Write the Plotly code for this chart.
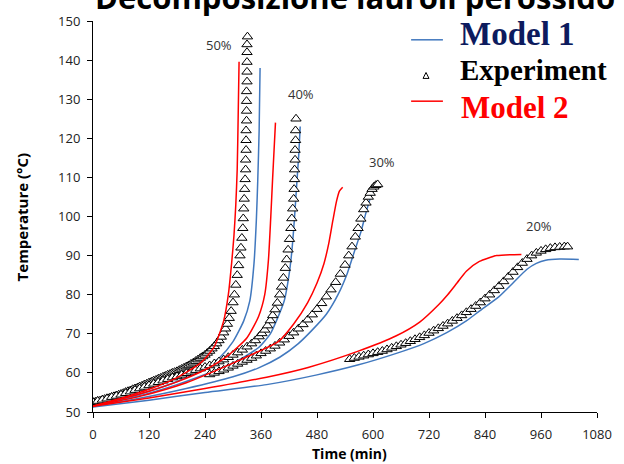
import plotly.graph_objects as go

# ---------------- data ----------------
# Experimental data (time in min, temperature in °C)
exp50_t = [0,5,10,15,20,25,30,35,40,45,50,55,60,65,70,75,80,85,90,95,100,105,110,115,120,
           125,130,135,140,145,150,155,160,165,170,175,180,185,190,195,200,205,210,215,220,
           225,230,235,240,245,250,255,260,265,270,275,280,284,288,292,296,300,303,306,309,
           312,315,317,319,321,322,323,324,325,326,327,327,328,328,328,329,329,329,329,330,
           330,330,330,330,331]
exp50_T = [52.5,52.6,52.8,52.9,53.1,53.3,53.5,53.6,53.8,54.0,54.2,54.4,54.6,54.8,55.1,55.3,55.5,55.8,56.0,56.2,56.5,56.7,57.0,57.2,57.5,
           57.7,58.0,58.2,58.5,58.7,59.0,59.2,59.5,59.7,60.0,60.2,60.4,60.7,61.0,61.3,61.6,61.9,62.3,62.6,63.0,
           63.4,63.8,64.2,64.6,65.1,65.6,66.2,66.8,67.5,68.3,69.2,70.3,71.3,72.5,74.0,75.8,78.0,80.0,82.5,85.0,
           87.5,90.0,92.0,94.5,97.0,99.5,102.0,104.5,107.0,109.5,112.0,114.5,117.0,119.5,122.0,124.5,127.0,129.5,132.0,134.5,
           137.0,139.5,142.0,144.0,146.0]

exp40_t = [0,10,20,30,40,50,60,70,80,90,100,110,120,130,140,150,160,170,180,190,200,210,220,230,240,
           250,260,270,280,290,300,310,320,330,340,348,356,362,368,374,380,385,390,395,400,404,408,412,
           415,418,421,424,426,428,430,431,432,432,433,433,434,434,435]
exp40_T = [52.5,52.8,53.1,53.4,53.8,54.1,54.4,54.8,55.2,55.6,56.0,56.4,56.8,57.2,57.6,58.0,58.4,58.8,59.1,59.5,59.9,60.3,60.7,61.1,61.5,
           61.9,62.4,62.9,63.4,64.0,64.6,65.2,65.9,66.7,67.5,68.3,69.3,70.1,71.0,72.1,73.4,74.7,76.2,77.9,80.0,82.0,84.3,86.8,
           89.0,91.5,94.2,97.0,99.5,102.0,104.5,107.0,109.5,112.0,114.5,117.0,119.5,122.0,125.0]

exp30_t = [250,260,270,280,290,300,310,320,330,340,350,360,370,380,390,400,410,420,430,440,
           450,460,470,480,490,500,510,520,530,540,548,555,562,568,574,580,585,590,594,598,602,606,610]
exp30_T = [59.6,60.0,60.4,60.8,61.3,61.8,62.3,62.8,63.3,63.8,64.4,65.0,65.6,66.2,66.9,67.7,68.5,69.4,70.3,71.3,
           72.4,73.6,74.9,76.3,77.8,79.5,81.3,83.2,85.3,87.6,90.0,92.3,94.8,97.0,99.4,101.8,103.5,105.0,106.0,107.0,107.6,108.0,108.2]

exp20_t = [550,560,570,580,590,600,610,620,630,640,650,660,670,680,690,700,710,720,730,740,
           750,760,770,780,790,800,810,820,830,840,850,860,870,880,890,900,910,920,930,940,
           950,960,970,980,990,1000,1010,1017]
exp20_T = [63.5,63.8,64.1,64.4,64.7,65.0,65.3,65.6,66.0,66.4,66.8,67.2,67.6,68.1,68.6,69.1,69.6,70.2,70.8,71.4,
           72.0,72.6,73.3,74.0,74.7,75.5,76.3,77.1,78.0,79.0,80.0,81.1,82.2,83.4,84.6,85.8,87.0,88.1,89.1,90.0,
           90.7,91.2,91.6,91.9,92.1,92.2,92.3,92.3]

# Model 1 (blue)
m1_50_t = [0,60,120,180,230,272,300,323,336,345,350,353,356,358]
m1_50_T = [51.4,53.2,55.3,57.8,60.5,64.0,68.0,73.3,78.4,88.0,99.0,109.0,122.0,138.0]
m1_40_t = [0,60,120,180,240,300,355,380,393,410,420,426,432,437,441,444]
m1_40_T = [51.4,53.0,54.8,57.0,59.6,62.5,66.5,70.0,73.3,78.5,85.0,91.0,100.0,109.0,116.0,123.0]
m1_30_t = [0,100,200,300,355,400,440,470,500,525,545,560,574,585,595,603]
m1_30_T = [51.4,53.5,56.0,59.0,61.3,64.0,67.5,71.0,75.0,80.0,85.5,91.0,96.0,101.0,105.0,107.0]
m1_20_t = [0,120,240,372,480,567,650,709,758,800,828,870,900,930,950,970,1000,1041]
m1_20_T = [51.3,53.0,55.0,57.0,59.5,62.0,65.0,67.5,70.3,73.3,75.8,79.5,83.0,86.5,88.0,88.8,89.1,89.0]

# Model 2 (red)
m2_50_t = [0,60,120,180,230,259,280,290,297,302,306,309,311,313]
m2_50_T = [51.5,53.5,55.8,58.8,62.5,66.5,73.3,80.0,88.0,95.0,103.0,112.0,125.0,139.6]
m2_40_t = [0,60,120,180,240,290,330,355,368,376,381,385,388,391]
m2_40_T = [51.5,53.3,55.3,57.7,60.8,64.5,69.0,74.5,80.0,89.0,100.0,110.0,117.0,124.0]
m2_30_t = [0,100,200,300,355,397,430,460,480,495,505,514,522,528,535]
m2_30_T = [51.5,54.0,57.5,62.5,65.5,68.0,72.5,78.0,83.0,88.0,93.0,99.0,104.0,106.5,107.5]
m2_20_t = [0,120,240,372,461,567,650,700,741,760,780,800,828,865,918]
m2_20_T = [51.5,53.6,56.0,58.9,61.4,65.5,69.5,73.0,77.5,80.0,83.0,86.0,88.5,90.0,90.3]

# Concentration labels and where they sit (data coords)
conc_labels = ["50%", "40%", "30%", "20%"]
conc_t = [270, 446, 620, 955]
conc_T = [143.9, 131.3, 114.0, 97.6]

x_ticks = [0, 120, 240, 360, 480, 600, 720, 840, 960, 1080]
y_ticks = [50, 60, 70, 80, 90, 100, 110, 120, 130, 140, 150]

title_text = "Decomposizione lauroil perossido"
x_title = "Time (min)"
y_title = "Temperature (°C)"
legend_names = ["Model 1", "Experiment", "Model 2"]

# ---------------- figure ----------------
BLUE = "#4178BE"
RED = "#FF0000"
W, H = 624, 464
ML, MR, MT, MB = 93, 24, 17, 52
PW, PH = W - ML - MR, H - MT - MB


def px(xp):
    return (xp - ML) / PW


def py(yp):
    return 1 - (yp - MT) / PH


fig = go.Figure()


def add_model(t, T, color):
    fig.add_trace(go.Scatter(x=t, y=T, mode="lines",
                             line=dict(color=color, width=1.5, shape="spline", smoothing=0.6),
                             showlegend=False, hoverinfo="skip"))


for t, T in [(m1_50_t, m1_50_T), (m1_40_t, m1_40_T), (m1_30_t, m1_30_T), (m1_20_t, m1_20_T)]:
    add_model(t, T, BLUE)

for t, T in [(exp50_t, exp50_T), (exp40_t, exp40_T), (exp30_t, exp30_T), (exp20_t, exp20_T)]:
    fig.add_trace(go.Scatter(x=t, y=T, mode="markers",
                             marker=dict(symbol="triangle-up", size=9, color="white",
                                         line=dict(color="black", width=1)),
                             showlegend=False, hoverinfo="skip"))

for t, T in [(m2_50_t, m2_50_T), (m2_40_t, m2_40_T), (m2_30_t, m2_30_T), (m2_20_t, m2_20_T)]:
    add_model(t, T, RED)

annotations = []
for lab, t, T in zip(conc_labels, conc_t, conc_T):
    annotations.append(dict(x=t, y=T, xref="x", yref="y", text=lab, showarrow=False,
                            font=dict(family="Open Sans", size=13, color="#333333")))

# title (partly cut off at the top, as in the reference)
annotations.append(dict(x=px(357), y=py(-7), xref="paper", yref="paper", text="<b>" + title_text + "</b>",
                        showarrow=False, xanchor="center", yanchor="middle",
                        font=dict(family="Open Sans", size=31, color="black")))

# axis titles
annotations.append(dict(x=px(351), y=py(454), xref="paper", yref="paper", text="<b>" + x_title + "</b>",
                        showarrow=False, xanchor="center", yanchor="middle",
                        font=dict(family="Open Sans", size=14, color="black")))
annotations.append(dict(x=px(22), y=py(215), xref="paper", yref="paper", text="<b>" + y_title + "</b>",
                        showarrow=False, xanchor="center", yanchor="middle", textangle=-90,
                        font=dict(family="Open Sans", size=15, color="black")))

# legend texts
leg_colors = ["#0D1B5E", "black", RED]
leg_y = [30, 66, 104]
leg_x = [460, 460, 461]
leg_size = [33, 29, 31]
for name, c, yy, xx, sz in zip(legend_names, leg_colors, leg_y, leg_x, leg_size):
    annotations.append(dict(x=px(xx), y=py(yy), xref="paper", yref="paper", text="<b>" + name + "</b>",
                            showarrow=False, xanchor="left", yanchor="middle",
                            font=dict(family="Liberation Serif", size=sz, color=c)))

shapes = [
    dict(type="line", xref="paper", yref="paper", x0=px(413), x1=px(445), y0=py(36), y1=py(36),
         line=dict(color=BLUE, width=1.5)),
    dict(type="line", xref="paper", yref="paper", x0=px(413), x1=px(445), y0=py(98), y1=py(98),
         line=dict(color=RED, width=1.5)),
    dict(type="path", xref="paper", yref="paper",
         path="M {} {} L {} {} L {} {} Z".format(px(425), py(75), px(431), py(75), px(428), py(69)),
         line=dict(color="black", width=1), fillcolor="white"),
]

fig.update_layout(
    width=W, height=H,
    margin=dict(l=ML, r=MR, t=MT, b=MB),
    paper_bgcolor="white", plot_bgcolor="white",
    showlegend=False,
    annotations=annotations,
    shapes=shapes,
    xaxis=dict(range=[0, 1080], tickvals=x_ticks, showline=True, linecolor="black", linewidth=1,
               ticks="outside", ticklen=5, tickcolor="black", showgrid=False, zeroline=False,
               tickfont=dict(family="Open Sans", size=13, color="#222222"), ticklabelstandoff=5),
    yaxis=dict(range=[50, 150], tickvals=y_ticks, showline=True, linecolor="black", linewidth=1,
               ticks="outside", ticklen=5, tickcolor="black", showgrid=False, zeroline=False,
               tickfont=dict(family="Open Sans", size=13, color="#222222"), ticklabelstandoff=4),
)

fig.write_html("out.html", config={"displayModeBar": False},
               post_script="document.body.style.margin='0';document.body.style.overflow='hidden';")
